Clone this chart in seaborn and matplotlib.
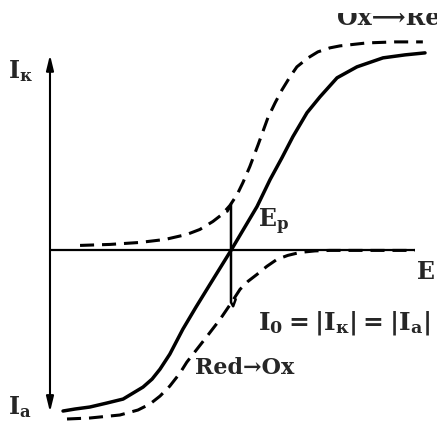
import matplotlib
matplotlib.use("Agg")
import matplotlib.pyplot as plt
from matplotlib.patches import Rectangle
import seaborn as sns

sns.set_style("white")
plt.rcParams["font.family"] = ["DejaVu Serif", "DejaVu Sans"]
plt.rcParams["mathtext.fontset"] = "custom"
plt.rcParams["mathtext.rm"] = "DejaVu Serif:bold"
plt.rcParams["mathtext.it"] = "DejaVu Serif:bold"
plt.rcParams["mathtext.bf"] = "DejaVu Serif:bold"

# Total polarisation current (solid curve), potential E vs current I
E_total = [0.36, 0.69, 1.10, 1.57, 2.02, 2.57, 2.82, 3.04, 3.31, 3.67, 4.03, 4.42,
           5.00, 5.36, 5.72, 6.08, 6.41, 6.71, 7.10, 7.46, 7.93, 8.48, 9.20, 9.81, 10.36]
I_total = [-1.61, -1.59, -1.57, -1.53, -1.49, -1.37, -1.29, -1.19, -1.04, -0.79, -0.57, -0.34,
           0.00, 0.22, 0.44, 0.71, 0.93, 1.14, 1.38, 1.54, 1.73, 1.84, 1.93, 1.96, 1.98]

# Partial cathodic current Ox -> Red (upper dashed curve)
E_cath = [0.83, 1.66, 2.49, 3.18, 3.78, 4.14, 4.50, 4.75, 4.97, 5.17, 5.33, 5.52, 5.75,
          6.02, 6.22, 6.41, 6.63, 6.82, 7.13, 7.40, 7.73, 8.01, 8.76, 9.53, 10.30]
I_cath = [0.05, 0.06, 0.08, 0.11, 0.16, 0.21, 0.29, 0.36, 0.45, 0.56, 0.68, 0.84, 1.06,
          1.33, 1.48, 1.61, 1.74, 1.84, 1.93, 1.99, 2.03, 2.05, 2.08, 2.09, 2.09]

# Partial anodic current Red -> Ox (lower dashed curve)
E_anod = [0.47, 1.10, 1.93, 2.43, 2.76, 3.04, 3.31, 3.59, 3.78, 4.06, 4.34, 4.70, 5.00,
          5.25, 5.47, 5.72, 5.99, 6.27, 6.57, 6.91, 7.32, 7.73, 10.08]
I_anod = [-1.69, -1.68, -1.65, -1.60, -1.54, -1.46, -1.36, -1.23, -1.12, -0.99, -0.86, -0.69, -0.53,
          -0.39, -0.31, -0.24, -0.16, -0.09, -0.05, -0.02, -0.005, 0.0, 0.0]

# Exchange current segment at the equilibrium potential E_p
E_exch = [4.90, 5.00, 5.00, 5.06, 5.13]
I_exch = [0.39, 0.46, -0.52, -0.56, -0.49]

E_axis_end = 10.08
I_axis_top = 1.96
I_axis_bottom = -1.62

fig = plt.figure(figsize=(4.37, 4.21), dpi=100)
ax = fig.add_axes([0, 0, 1, 1])
ax.set_xlim(-1.381, 10.691)
ax.set_ylim(-1.71, 2.51)
ax.axis("off")

# current axis with arrows both ways, potential axis
ax.annotate("", xy=(0, I_axis_top), xytext=(0, I_axis_bottom),
            arrowprops=dict(arrowstyle="<|-|>,head_length=0.9,head_width=0.22",
                            lw=1.5, color="black", shrinkA=0, shrinkB=0))
ax.plot([0, E_axis_end], [0, 0], color="black", lw=1.6, solid_capstyle="butt")

dash = (0, (4.6, 2.6))
sns.lineplot(x=E_total, y=I_total, ax=ax, sort=False, estimator=None,
             color="black", linewidth=2.5)
sns.lineplot(x=E_cath, y=I_cath, ax=ax, sort=False, estimator=None,
             color="black", linewidth=2.2)
ax.lines[-1].set_linestyle(dash)
sns.lineplot(x=E_anod, y=I_anod, ax=ax, sort=False, estimator=None,
             color="black", linewidth=2.2)
ax.lines[-1].set_linestyle(dash)
sns.lineplot(x=E_exch, y=I_exch, ax=ax, sort=False, estimator=None,
             color="black", linewidth=1.8)

fs = 17
ax.text(-1.16, 1.73, r"$\mathrm{I_к}$", fontsize=fs, ha="left", va="baseline")
ax.text(-1.16, -1.64, r"$\mathrm{I_a}$", fontsize=fs, ha="left", va="baseline")
ax.text(5.75, 0.23, r"$\mathrm{E_p}$", fontsize=fs, ha="left", va="baseline")
ax.text(10.14, -0.29, "E", fontsize=fs, fontweight="bold", ha="left", va="baseline")
ax.text(5.75, -0.79, r"$\mathrm{I_0=|I_к|=|I_a|}$", fontsize=fs + 1,
        ha="left", va="baseline")
ax.text(4.01, -1.24, "Red→Ox", fontsize=fs - 1, fontweight="bold",
        ha="left", va="baseline")
top = ax.text(7.93, 2.26, "Ox⟶Red", fontsize=fs, fontweight="bold",
              ha="left", va="baseline")
top.set_clip_path(Rectangle((-2, -2), 14, 4.38, transform=ax.transData))
top.set_clip_on(True)

fig.savefig("out.png", dpi=100, facecolor="white")
